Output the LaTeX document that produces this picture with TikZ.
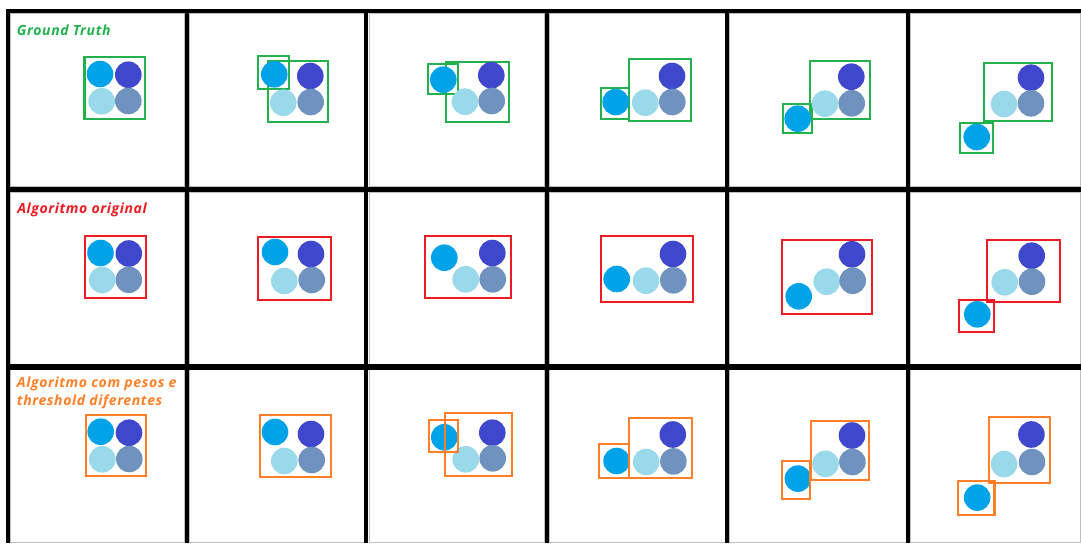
\documentclass[tikz,border=0pt]{standalone}
\usepackage{fontspec}
\setmainfont{Open Sans}
\newfontfamily\lblfont[LetterSpace=4.3]{Open Sans}
\definecolor{cLB}{HTML}{00A2E8}
\definecolor{cDB}{HTML}{3F48CC}
\definecolor{cLT}{HTML}{99D9EA}
\definecolor{cGB}{HTML}{7092BE}
\definecolor{cGreen}{HTML}{22B14C}
\definecolor{cRed}{HTML}{ED1C24}
\definecolor{cOrange}{HTML}{FF7F27}
\newcommand\ballset[8]{%
  \fill[cLB] (#1,#2) circle (13.3);
  \fill[cDB] (#3,#4) circle (13.3);
  \fill[cLT] (#5,#6) circle (13.3);
  \fill[cGB] (#7,#8) circle (13.3);
}
\begin{document}
\begin{tikzpicture}[x=0.75pt,y=-0.75pt,
  gridv/.style={line width=3pt,black},
  gridh/.style={line width=4pt,black},
  cellrim/.style={line width=0.75pt,black!25},
  gbox/.style={draw=cGreen,line width=1.6pt},
  rbox/.style={draw=cRed,line width=1.6pt},
  obox/.style={draw=cOrange,line width=1.6pt},
  lbl/.style={anchor=base west,inner sep=0pt,font=\lblfont\fontsize{10.5}{13.9}\selectfont\itshape\bfseries}]
\useasboundingbox (0,0) rectangle (1081,543);
\fill[white] (0,0) rectangle (1081,543);
% cell rims
\foreach \xa/\xb in {10.5/184.5,189.5/364,369/544.5,549/725,729.5/906,910.5/1080}{
  \foreach \ya/\yb in {13.5/186.8,192.3/364.2,369.8/542}{
    \draw[cellrim] (\xa,\ya) rectangle (\xb,\yb);
  }
}
% grid lines
\draw[line width=3pt] (6,11) -- (1081,11);
\draw[gridh] (6,189.5) -- (1081,189.5);
\draw[gridh] (6,367) -- (1081,367);
\foreach \x in {8,187,366,546.5,727,908}{
  \draw[gridv] (\x,9.5) -- (\x,543);
}
% ---------- Row 1 : ground truth ----------
\draw[gbox] (84.5,57) rectangle (145,119.3);
\ballset{100}{74}{128.3}{74.7}{101.7}{101.3}{128.3}{101}
\draw[gbox] (258,56.3) rectangle (289.3,88.7);
\draw[gbox] (268,61) rectangle (328.3,122);
\ballset{274.3}{74.3}{310.3}{76}{283.3}{102.7}{310.7}{102}
\draw[gbox] (427.7,64.3) rectangle (457.7,94.3);
\draw[gbox] (445.7,62.3) rectangle (508.7,121.7);
\ballset{443.3}{79.7}{491.3}{75.3}{465}{101.7}{491.7}{101}
\draw[gbox] (600.7,88) rectangle (628.7,118.7);
\draw[gbox] (628.7,59.3) rectangle (690.7,121);
\ballset{615.7}{102}{672}{76}{645.3}{102.7}{672.3}{102}
\draw[gbox] (783.3,104) rectangle (811.7,133.3);
\draw[gbox] (810.3,61.3) rectangle (870.3,119.3);
\ballset{797.7}{118.7}{851.3}{76.7}{825}{103.7}{851.7}{103.3}
\draw[gbox] (960,123.3) rectangle (992.7,152.7);
\draw[gbox] (983.7,63) rectangle (1052,121);
\ballset{976.7}{137}{1031}{77.7}{1004}{104}{1031}{103.3}
% ---------- Row 2 : original algorithm ----------
\draw[rbox] (85,236) rectangle (146,298);
\ballset{100.5}{253}{128.8}{253.5}{102.2}{280}{128.8}{279.8}
\draw[rbox] (257.7,237.3) rectangle (331.3,300.3);
\ballset{275}{252}{311}{254}{284.3}{281}{311.7}{280}
\draw[rbox] (424.7,236.3) rectangle (510.7,298);
\ballset{444.3}{257.7}{492.3}{253}{465.7}{279.3}{492.7}{279.3}
\draw[rbox] (601,236.3) rectangle (692.7,301.7);
\ballset{616.7}{279}{673}{254}{646}{280.7}{673.3}{280.3}
\draw[rbox] (782.3,239.7) rectangle (872,313.7);
\ballset{798.7}{296.3}{852}{254.3}{826.7}{281.7}{852.7}{280.7}
\draw[rbox] (959.3,300) rectangle (994.3,331.7);
\draw[rbox] (987.3,239.7) rectangle (1059.7,301.7);
\ballset{977.3}{314.3}{1031.7}{255.7}{1004.7}{282.3}{1032}{281.7}
% ---------- Row 3 : modified algorithm ----------
\ballset{100.7}{431.7}{129}{432.7}{102.3}{459.3}{129.3}{459}
\draw[obox] (85.7,415.3) rectangle (145.7,476);
\ballset{275}{432}{311}{434}{284.3}{461}{311.7}{460}
\draw[obox] (260.3,415.3) rectangle (331.3,476.7);
\ballset{444.3}{437.3}{492.3}{432.7}{465.7}{459.3}{492.7}{458.3}
\draw[obox] (429.3,420.3) rectangle (457.7,451.7);
\draw[obox] (445.3,413.3) rectangle (512,476.3);
\ballset{616.6}{461}{672.8}{434.5}{646.2}{462}{673.4}{461.4}
\draw[obox] (598.6,443.8) rectangle (629.3,478.3);
\draw[obox] (629.3,418) rectangle (691.7,477.6);
\ballset{797.9}{478.6}{852}{435.5}{825.5}{463.8}{852.4}{462}
\draw[obox] (782.4,460.7) rectangle (810.3,498.6);
\draw[obox] (811.3,420.7) rectangle (869.3,479.6);
\ballset{977.2}{497.6}{1031.4}{434.5}{1004.1}{464.1}{1032}{462}
\draw[obox] (958.3,481) rectangle (994.5,514.8);
\draw[obox] (989,417) rectangle (1050.3,482.8);
% ---------- labels ----------
\node[lbl,text=cGreen] (t1) at (16.7,35) {Ground Truth};
\node[lbl,text=cRed] (t2) at (17,213.5) {Algoritmo original};
\node[lbl,text=cOrange] (t3a) at (16.7,387.3) {Algoritmo com pesos e};
\node[lbl,text=cOrange] (t3b) at (16.7,405.7) {threshold diferentes};
\end{tikzpicture}
\end{document}
